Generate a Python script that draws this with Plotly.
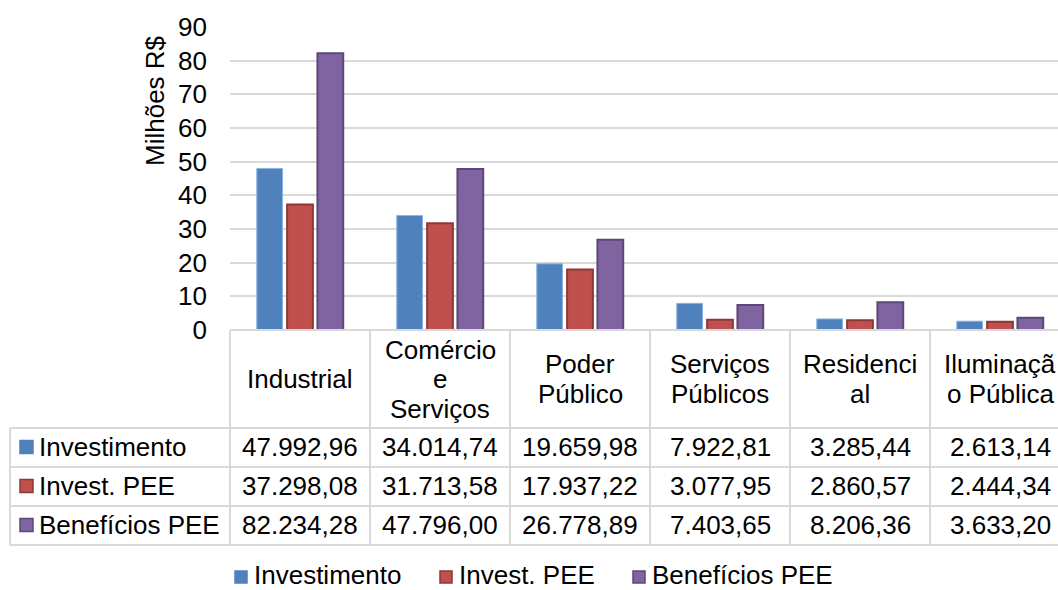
import plotly.graph_objects as go

# Categories and the wrapped header text used in the data table
categories = ["Industrial", "Comércio e Serviços", "Poder Público",
              "Serviços Públicos", "Residencial", "Iluminação Pública"]
header_lines = [["Industrial"], ["Comércio", "e", "Serviços"], ["Poder", "Público"],
                ["Serviços", "Públicos"], ["Residenci", "al"], ["Iluminaçã", "o Pública"]]

# Values in R$ mil
series_names = ["Investimento", "Invest. PEE", "Benefícios PEE"]
investimento = [47992.96, 34014.74, 19659.98, 7922.81, 3285.44, 2613.14]
invest_pee = [37298.08, 31713.58, 17937.22, 3077.95, 2860.57, 2444.34]
beneficios_pee = [82234.28, 47796.00, 26778.89, 7403.65, 8206.36, 3633.20]

y_ticks = [0, 10, 20, 30, 40, 50, 60, 70, 80, 90]
y_title = "Milhões R$"

series_values = [investimento, invest_pee, beneficios_pee]
fills = ["#4F81BD", "#C0504D", "#8064A2"]
edges = ["#8DB3E2", "#8C3836", "#5C4777"]
edge_widths = [1, 2, 2]

FONT = "Liberation Sans, Arial, sans-serif"
W, H = 1058, 590
ML, MR, MT, MB = 230, 0, 27, 260
plot_w = W - ML - MR
plot_h = H - MT - MB
col_w = 140  # pixel width of one category column
x_range = [-0.5, -0.5 + plot_w / col_w]
GRID = "#D9D9D9"


def br_fmt(v):
    s = f"{v:,.2f}"
    return s.replace(",", "X").replace(".", ",").replace("X", ".")


def paper_x(px):
    return (px - ML) / plot_w


def paper_y(py):
    return (H - MB - py) / plot_h


def cat_to_paper(v):
    return (v - x_range[0]) / (x_range[1] - x_range[0])


fig = go.Figure()
for name, vals, fc, ec, ew in zip(series_names, series_values, fills, edges, edge_widths):
    fig.add_trace(go.Bar(
        name=name, x=list(range(len(categories))), y=[v / 1000 for v in vals],
        marker=dict(color=fc, line=dict(color=ec, width=ew)),
        showlegend=False,
        hovertext=categories,
    ))

shapes = []
annotations = []

# Data table grid
table_top, header_bottom = 330, 428
row_lines = [467, 506, 545]
label_left = 10
right_edge = cat_to_paper(len(categories) - 0.5)
line_style = dict(color=GRID, width=2)
shapes.append(dict(type="line", xref="paper", yref="paper", x0=0, x1=right_edge,
                   y0=paper_y(table_top), y1=paper_y(table_top), line=line_style))
for yy in [header_bottom] + row_lines:
    shapes.append(dict(type="line", xref="paper", yref="paper", x0=paper_x(label_left), x1=right_edge,
                       y0=paper_y(yy), y1=paper_y(yy), line=line_style))
shapes.append(dict(type="line", xref="paper", yref="paper", x0=paper_x(label_left), x1=paper_x(label_left),
                   y0=paper_y(header_bottom), y1=paper_y(row_lines[-1]), line=line_style))
for i in range(len(categories) + 1):
    xb = cat_to_paper(i - 0.5)
    shapes.append(dict(type="line", xref="paper", yref="paper", x0=xb, x1=xb,
                       y0=paper_y(table_top), y1=paper_y(row_lines[-1]), line=line_style))

# Header text
header_center = 379
line_gap = 29.5
for i, lines in enumerate(header_lines):
    n = len(lines)
    for k, txt in enumerate(lines):
        yy = header_center + (k - (n - 1) / 2) * line_gap
        annotations.append(dict(x=i, xref="x", y=paper_y(yy), yref="paper", text=txt,
                                showarrow=False, xanchor="center", yanchor="middle",
                                font=dict(family=FONT, size=26, color="black")))

# Table rows: series key, name and values
row_centers = [447, 486, 525]
for r, (name, vals, fc, ec) in enumerate(zip(series_names, series_values, fills, edges)):
    yc = row_centers[r]
    shapes.append(dict(type="rect", xref="paper", yref="paper",
                       x0=paper_x(20), x1=paper_x(33), y0=paper_y(yc - 6.5), y1=paper_y(yc + 6.5),
                       fillcolor=fc, line=dict(color=ec if r else fc, width=1.5)))
    annotations.append(dict(x=paper_x(37), xref="paper", y=paper_y(yc), yref="paper", text=name,
                            showarrow=False, xanchor="left", yanchor="middle",
                            font=dict(family=FONT, size=26, color="black")))
    for i, v in enumerate(vals):
        annotations.append(dict(x=i, xref="x", y=paper_y(yc), yref="paper", text=br_fmt(v),
                                showarrow=False, xanchor="center", yanchor="middle",
                                font=dict(family=FONT, size=26, color="black")))

# Legend below the table
legend_y = 577
legend_keys = [235, 440, 633]
for name, fc, ec, kx, r in zip(series_names, fills, edges, legend_keys, range(3)):
    shapes.append(dict(type="rect", xref="paper", yref="paper",
                       x0=paper_x(kx), x1=paper_x(kx + 12), y0=paper_y(legend_y - 6), y1=paper_y(legend_y + 6),
                       fillcolor=fc, line=dict(color=ec if r else fc, width=1.5)))
    annotations.append(dict(x=paper_x(kx + 17), xref="paper", y=paper_y(legend_y - 2), yref="paper", text=name,
                            showarrow=False, xanchor="left", yanchor="middle",
                            font=dict(family=FONT, size=26, color="black")))

# Vertical axis title
annotations.append(dict(x=paper_x(155), xref="paper", y=paper_y(101), yref="paper", text=y_title,
                        textangle=-90, showarrow=False, xanchor="center", yanchor="middle",
                        font=dict(family=FONT, size=26, color="black")))

fig.update_layout(
    width=W, height=H,
    margin=dict(l=ML, r=MR, t=MT, b=MB),
    paper_bgcolor="white", plot_bgcolor="white",
    barmode="group", bargap=0.35, bargroupgap=0.15,
    font=dict(family=FONT, size=26, color="black"),
    shapes=shapes, annotations=annotations,
    xaxis=dict(range=x_range, showticklabels=False, showgrid=False, zeroline=False,
               showline=False, ticks=""),
    yaxis=dict(range=[0, 90], tickvals=y_ticks, showgrid=True, gridcolor=GRID, gridwidth=1.5,
               zeroline=False, showline=False, ticks="", ticklabelstandoff=22,
               tickfont=dict(family=FONT, size=26, color="black")),
)

fig.write_html("out.html")
